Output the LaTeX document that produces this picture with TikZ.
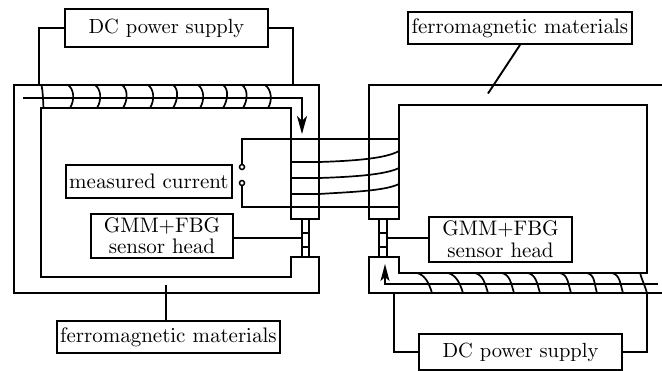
\documentclass[tikz,border=0pt]{standalone}
\usetikzlibrary{arrows.meta,calc}
\font\lblfont=cmr10 at 21pt
\font\dcfont=cmr10 at 20.5pt
\newcommand{\lblsel}{\lblfont\baselineskip=21.5pt\relax}
\tikzset{
  wire/.style={line width=1.9pt,line join=miter},
  coilturn/.style={line width=1.7pt},
  labelbox/.style={draw,line width=1.9pt,inner sep=0pt,align=center,font=\lblsel},
  terminal/.style={circle,draw,fill=white,line width=1.5pt,inner sep=0pt,minimum size=5pt},
}
\newcommand{\topturn}[2]{\draw[coilturn] (#1,85) .. controls ({#1+6},89) and ({#2+5},100) .. (#2,108);}
\newcommand{\botturn}[2]{\draw[coilturn] (#1,273) .. controls ({#1+8},275) and ({#2-3},283) .. (#2,293);}
\begin{document}
\begin{tikzpicture}[x=1pt,y=-1pt]
\useasboundingbox (0,0) rectangle (662,370);
% cores
\draw[wire] (291,219) -- (291,108) -- (41,108) -- (41,277) -- (291,277) -- (291,257) -- (319,257) -- (319,293) -- (14,293) -- (14,85) -- (319,85) -- (319,219) -- cycle;
\draw[wire] (662,85) -- (369,85) -- (369,219) -- (399,219) -- (399,105) -- (647,105) -- (647,273) -- (399,273) -- (399,257) -- (369,257) -- (369,293) -- (662,293);
% sensor strips
\draw[wire] (302,219) -- (302,257) (309,219) -- (309,257);
\draw[wire] (379,219) -- (379,257) (387,219) -- (387,257);
\draw[coilturn] (302,233) -- (309,233) (302,247) -- (309,247) (379,233) -- (387,233) (379,247) -- (387,247);
% labels
\node[labelbox,minimum width=203pt,minimum height=38pt] (dctop) at (166.5,28) {\dcfont DC power supply};
\node[labelbox,minimum width=203pt,minimum height=36pt] (dcbot) at (520.5,352) {\dcfont DC power supply};
\node[labelbox,minimum width=224pt,minimum height=32pt] (fmtop) at (520,28) {ferromagnetic materials};
\node[labelbox,minimum width=223pt,minimum height=32pt] (fmbot) at (168.5,337) {ferromagnetic materials};
\node[labelbox,minimum width=166pt,minimum height=33pt] (meas) at (149,181.5) {measured current};
\node[labelbox,minimum width=142pt,minimum height=44pt] (gmml) at (162,236) {GMM+FBG\\sensor head};
\node[labelbox,minimum width=143pt,minimum height=45pt] (gmmr) at (500.5,239.5) {GMM+FBG\\sensor head};
% anchor points
\coordinate (sl) at (302,238);
\coordinate (sr) at (387,238);
\coordinate (fmtend) at (488,93.5);
\coordinate (fmbend) at (166,285);
\coordinate (dctl) at (39,85);
\coordinate (dctr) at (293,85);
\coordinate (dcbl) at (394,293);
\coordinate (dcbr) at (647,293);
% leads
\draw[wire] (dctop.west) -| (dctl);
\draw[wire] (dctop.east) -| (dctr);
\draw[wire] (dcbot.west) -| (dcbl);
\draw[wire] (dcbot.east) -| (dcbr);
\draw[wire] (fmtop.south) -- (fmtend);
\draw[wire] (fmbot.north -| fmbend) -- (fmbend);
\draw[wire] (gmml.east |- sl) -- (sl);
\draw[wire] (gmmr.west |- sr) -- (sr);
% flux paths
\coordinate (fla) at (23,98);
\coordinate (flb) at (302,98);
\coordinate (flc) at (302,134);
\draw[wire,-{Stealth[length=18pt,width=10pt,inset=5pt]}] (fla) -- (flb) -- (flc);
\coordinate (frb) at (658,284);
\coordinate (frc) at (385,284);
\coordinate (frd) at (385,264);
\draw[wire,-{Stealth[length=17pt,width=9pt,inset=4pt]}] (frb) -- (frc) -- (frd);
% upper coil
\draw[coilturn] (41.5,85) .. controls (43,92) and (43,100) .. (43.5,108);
\foreach \a/\b in {68/70,95/97,122/123,148/150,173/173,198/200,223/223,242/243,265/268}{\topturn{\a}{\b}}
% lower coil
\foreach \a/\b in {417/432,448/463,475/488,502/514,528/540,560/571,587/597,612/623}{\botturn{\a}{\b}}
\draw[coilturn] (640,273) .. controls (642,280) and (645,286) .. (647,293);
% measured current winding
\node[terminal] (tta) at (242,167) {};
\node[terminal] (ttb) at (242,183) {};
\coordinate (wa) at (399,139);
\coordinate (wb) at (399,207);
\draw[wire] (tta.north) |- (wa);
\draw[wire] (ttb.south) |- (wb);
\draw[coilturn] (291,162) -- (319,162) .. controls (350,161) and (385,159) .. (399,151);
\draw[coilturn] (291,178) -- (319,178) .. controls (350,177) and (385,175) .. (399,168);
\draw[coilturn] (291,194) -- (319,194) .. controls (350,192) and (385,191) .. (399,184);
\end{tikzpicture}
\end{document}
